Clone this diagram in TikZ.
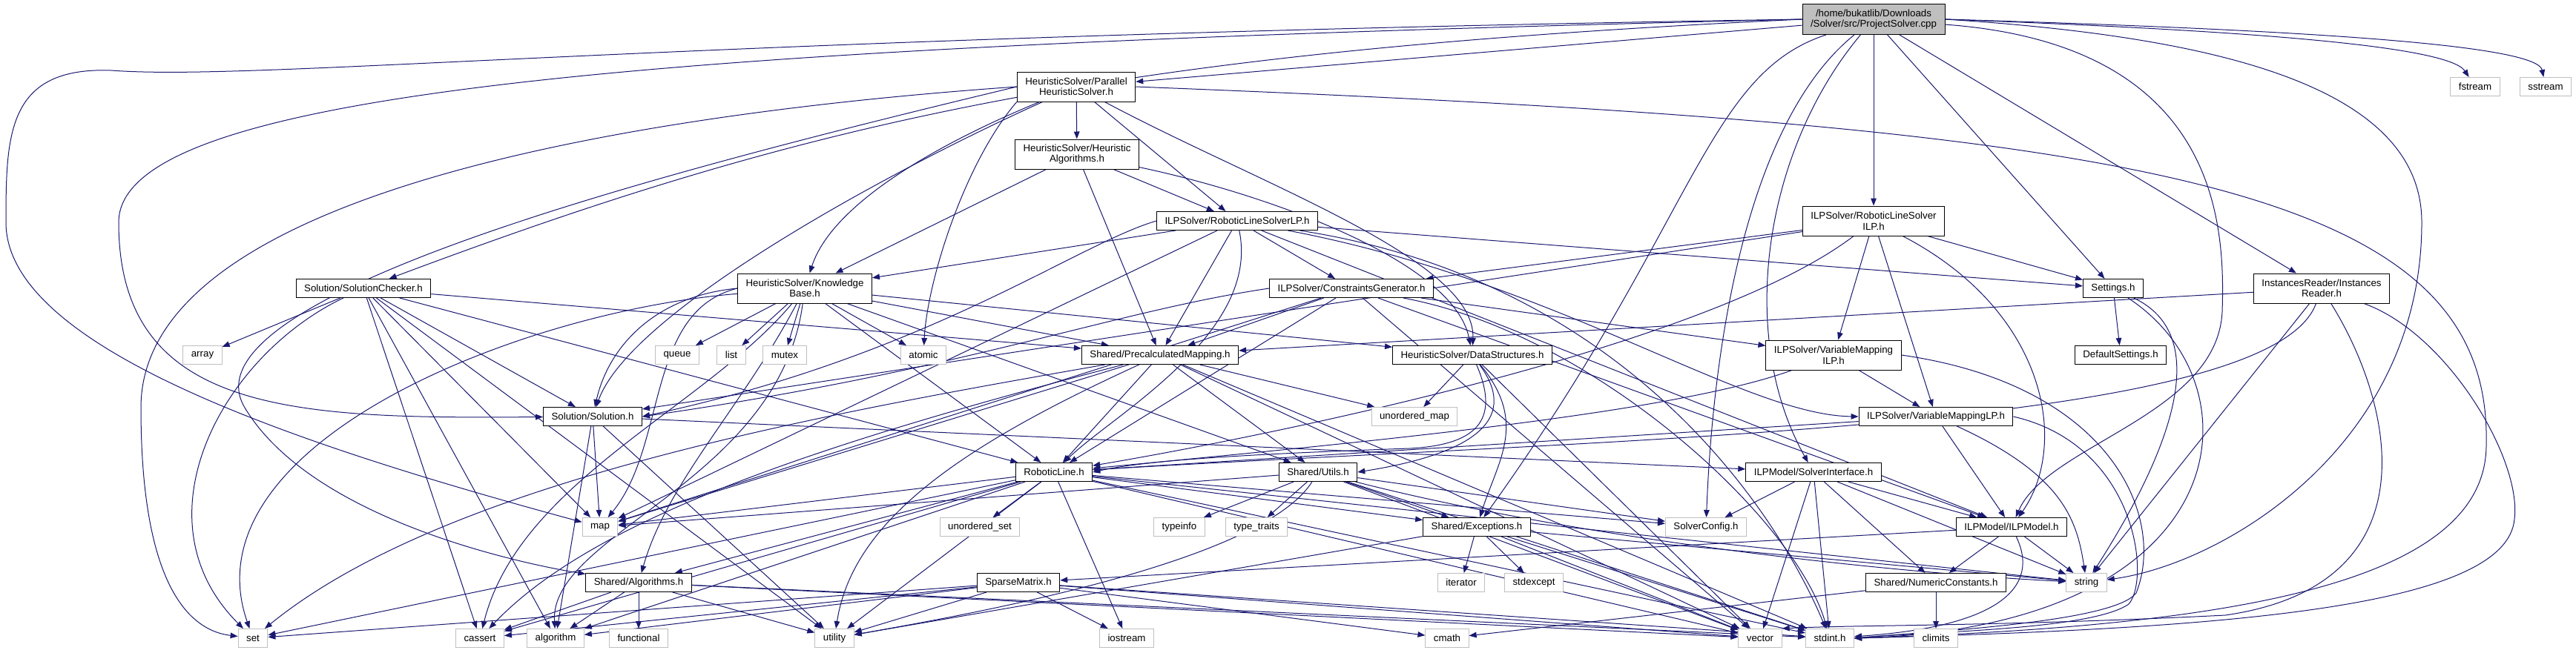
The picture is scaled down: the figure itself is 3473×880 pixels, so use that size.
\documentclass[tikz,border=0pt]{standalone}
\usepackage{fontspec}
\setmainfont{Liberation Sans}
\usepackage{tikz}
\usetikzlibrary{arrows.meta}
\definecolor{enlace}{HTML}{191970}
\definecolor{gristec}{HTML}{BFBFBF}
\pgfdeclarelayer{aristas}
\pgfsetlayers{aristas,main}

\begin{document}
\begin{tikzpicture}[x=0.5pt,y=-0.5pt,
  every node/.style={font=\fontsize{6.65}{7.2}\selectfont},
  hdr/.style={draw=black,fill=white,line width=0.5pt,inner xsep=5.5pt,inner ysep=0pt,
              minimum height=12.5pt,align=center},
  hdrdos/.style={hdr,minimum height=20pt},
  sys/.style={hdr,draw=gristec},
  fuente/.style={hdrdos,fill=gristec,minimum height=20.5pt},
  incl/.style={draw=enlace,line width=0.5pt,-{Triangle[length=5pt,width=3.8pt]}}
]
\useasboundingbox (0,0) rectangle (3473,880);
% fila 0-2
\node[fuente] (root) at (2526,26) {/home/bukatlib/Downloads\\/Solver/src/ProjectSolver.cpp};
\node[hdrdos] (phs) at (1451,117) {HeuristicSolver/Parallel\\HeuristicSolver.h};
\node[sys] (fstream) at (3337,117) {fstream};
\node[sys] (sstream) at (3432,117) {sstream};
\node[hdrdos] (ha) at (1452,208) {HeuristicSolver/Heuristic\\Algorithms.h};
\node[hdr] (rlslp) at (1668,298) {ILPSolver/RoboticLineSolverLP.h};
\node[hdrdos] (rlsilp) at (2526,298) {ILPSolver/RoboticLineSolver\\ILP.h};
% fila 3
\node[hdr] (sc) at (490,389) {Solution/SolutionChecker.h};
\node[hdrdos] (kb) at (1085,389) {HeuristicSolver/Knowledge\\Base.h};
\node[hdr] (cg) at (1822,389) {ILPSolver/ConstraintsGenerator.h};
\node[hdr] (settings) at (2849,389) {Settings.h};
\node[hdrdos] (ir) at (3130,389) {InstancesReader/Instances\\Reader.h};
% fila 4
\foreach \n/\x/\t in {array/273/array,queue/913/queue,list/986/list,mutex/1058/mutex,atomic/1245/atomic}
  \node[sys] (\n) at (\x,479) {\t};
\node[hdr] (pm) at (1564,479) {Shared/PrecalculatedMapping.h};
\node[hdr] (ds) at (1985,479) {HeuristicSolver/DataStructures.h};
\node[hdrdos] (vmilp) at (2472,479) {ILPSolver/VariableMapping\\ILP.h};
\node[hdr] (defset) at (2859,479) {DefaultSettings.h};
% fila 5-6
\node[hdr] (sol) at (799,562) {Solution/Solution.h};
\node[sys] (umap) at (1907,562) {unordered\_map};
\node[hdr] (vmlp) at (2610,562) {ILPSolver/VariableMappingLP.h};
\node[hdr] (rl) at (1421,637) {RoboticLine.h};
\node[hdr] (utils) at (1777,637) {Shared/Utils.h};
\node[hdr] (si) at (2445,637) {ILPModel/SolverInterface.h};
% fila 7
\node[sys] (map) at (809,711) {map};
\node[sys] (uset) at (1321,711) {unordered\_set};
\node[sys] (typeinfo) at (1590,711) {typeinfo};
\node[sys] (typetraits) at (1694,711) {type\_traits};
\node[hdr] (exc) at (1991,711) {Shared/Exceptions.h};
\node[sys] (cfg) at (2300,711) {SolverConfig.h};
\node[hdr] (ilpm) at (2712,711) {ILPModel/ILPModel.h};
% fila 8
\node[hdr] (alg) at (861,786) {Shared/Algorithms.h};
\node[hdr] (sm) at (1373,786) {SparseMatrix.h};
\node[sys] (iterator) at (1970,786) {iterator};
\node[sys] (stdexcept) at (2068,786) {stdexcept};
\node[hdr] (nc) at (2610,786) {Shared/NumericConstants.h};
\node[sys] (string) at (2813,786) {string};
% fila 9
\foreach \n/\x/\t in {set/341/set,cassert/647/cassert,algorithm/749/algorithm,functional/861/functional,
                      utility/1125/utility,iostream/1519/iostream,cmath/1951/cmath,vector/2373/vector,
                      stdint/2467/stdint.h,climits/2610/climits}
  \node[sys] (\n) at (\x,861) {\t};

\begin{pgfonlayer}{aristas}
\foreach \a/\b in {root/phs,root/rlsilp,root/settings,root/ir,
  phs/ha,phs/rlslp,
  ha/rlslp,ha/kb,ha/pm,
  rlslp/kb,rlslp/pm,rlslp/cg,rlslp/map,rlslp/settings,rlslp/ilpm,
  cg/pm,cg/rl,cg/map,cg/vmilp,cg/ilpm,cg/vector,
  rlsilp/cg,rlsilp/settings,rlsilp/vmilp,rlsilp/sol,rlsilp/vmlp,
  settings/defset,ir/pm,ir/string,
  sc/array,sc/sol,sc/map,sc/pm,sc/rl,sc/cassert,sc/algorithm,sc/utility,
  kb/queue,kb/list,kb/mutex,kb/atomic,kb/rl,kb/ds,kb/utils,kb/pm,
  pm/rl,pm/utils,pm/umap,pm/map,pm/stdint,pm/vector,
  ds/umap,ds/vector,
  vmilp/vmlp,vmlp/rl,vmlp/ilpm,
  sol/map,sol/si,sol/utility,sol/algorithm,
  rl/uset,rl/iostream,rl/vector,rl/stdint,rl/exc,rl/cfg,rl/string,rl/map,rl/set,rl/cassert,
  rl/algorithm,rl/utility,rl/alg,
  utils/typeinfo,utils/typetraits,utils/exc,utils/cfg,utils/vector,utils/stdint,utils/map,
  si/cfg,si/ilpm,si/nc,si/string,si/vector,si/stdint,
  exc/iterator,exc/stdexcept,exc/string,exc/vector,exc/stdint,exc/utility,
  ilpm/sm,ilpm/nc,ilpm/string,nc/climits,nc/cmath,
  alg/cassert,alg/algorithm,alg/functional,alg/utility,alg/vector,alg/stdint,
  sm/set,sm/cassert,sm/algorithm,sm/utility,sm/iostream,sm/cmath,sm/vector,sm/stdint}
  \draw[incl] (\a) -- (\b);
% rutas largas
\draw[incl] (root.west) .. controls (900,50) and (350,110) .. (150,95)
  .. controls (10,90) and (8,180) .. (8,300) .. controls (8,470) and (400,600) .. (map);
\draw[incl] (root.west) .. controls (900,62) and (160,120) .. (160,300)
  .. controls (160,560) and (400,565) .. (sol);
\draw[incl] (root.west) .. controls (1500,70) and (1100,160) .. (sc);
\draw[incl] (root) .. controls (2300,100) and (2286,300) .. (exc);
\draw[incl] (root) .. controls (2360,160) and (2310,450) .. (cfg);
\draw[incl] (root) .. controls (2380,200) and (2340,450) .. (si);
\draw[incl] (root) .. controls (2990,60) and (3000,300) .. (2996,420)
  .. controls (2990,560) and (2760,600) .. (ilpm);
\draw[incl] (root.east) .. controls (3000,50) and (3265,120) .. (3265,300)
  .. controls (3265,600) and (3000,760) .. (string);
\draw[incl] (root.east) .. controls (3000,40) and (3300,60) .. (fstream);
\draw[incl] (root.east) .. controls (3100,40) and (3420,60) .. (sstream);
\draw[incl] (phs) .. controls (1250,200) and (1120,280) .. (kb);
\draw[incl] (phs.south west) .. controls (1300,220) and (1250,380) .. (atomic);
\draw[incl] (phs) .. controls (1700,250) and (1990,350) .. (ds);
\draw[incl] (ha) .. controls (1700,260) and (1960,350) .. (ds);
\draw[incl] (phs) .. controls (1200,230) and (850,420) .. (sol);
\draw[incl] (phs.west) .. controls (900,150) and (190,250) .. (190,550)
  .. controls (190,780) and (250,850) .. (set);
\draw[incl] (phs.west) .. controls (900,230) and (240,400) .. (330,550)
  .. controls (420,700) and (700,760) .. (alg);
\draw[incl] (phs.east) .. controls (2900,170) and (3360,250) .. (3352,600)
  .. controls (3352,790) and (3000,845) .. (stdint.east);
\draw[incl] (rlslp) .. controls (1700,450) and (1500,560) .. (rl);
\draw[incl] (rlslp.west) .. controls (1450,330) and (1250,480) .. (sol.east);
\draw[incl] (rlslp) .. controls (2100,380) and (2350,560) .. (vmlp.west);
\draw[incl] (rlslp) .. controls (2200,380) and (2400,700) .. (stdint);
\draw[incl] (cg.west) .. controls (1500,420) and (1300,500) .. (sol.east);
\draw[incl] (cg) .. controls (2150,450) and (2420,700) .. (stdint);
\draw[incl] (rlsilp) .. controls (2300,470) and (1700,590) .. (rl);
\draw[incl] (rlsilp) .. controls (2760,420) and (2790,600) .. (ilpm);
\draw[incl] (ir) .. controls (3060,580) and (2200,590) .. (rl);
\draw[incl] (ir) .. controls (3300,450) and (3400,620) .. (3390,700)
  .. controls (3380,820) and (3000,848) .. (stdint.east);
\draw[incl] (ir) .. controls (3230,550) and (3280,790) .. (3000,830)
  .. controls (2700,845) and (2500,843) .. (vector.north east);
\draw[incl] (settings) .. controls (3000,460) and (2900,650) .. (string);
\draw[incl] (settings) .. controls (3050,520) and (3020,845) .. (stdint.east);
\draw[incl] (sc) .. controls (300,480) and (180,700) .. (set);
\draw[incl] (kb.west) .. controls (880,400) and (820,470) .. (sol);
\draw[incl] (kb.west) .. controls (870,420) and (900,600) .. (map);
\draw[incl] (kb) .. controls (1000,550) and (900,650) .. (alg);
\draw[incl] (kb) .. controls (700,420) and (250,600) .. (set);
\draw[incl] (kb) .. controls (950,550) and (700,650) .. (cassert);
\draw[incl] (kb) .. controls (1050,650) and (740,720) .. (algorithm);
\draw[incl] (pm) .. controls (1100,560) and (600,650) .. (set);
\draw[incl] (pm) .. controls (1100,600) and (800,700) .. (cassert);
\draw[incl] (pm) .. controls (1300,600) and (1150,700) .. (utility);
\draw[incl] (ds) .. controls (2020,560) and (2000,600) .. (1900,605)
  .. controls (1700,612) and (1550,620) .. (rl.east);
\draw[incl] (ds) .. controls (2045,560) and (2000,610) .. (utils.east);
\draw[incl] (ds) .. controls (2060,570) and (2020,620) .. (exc);
\draw[incl] (vmilp) .. controls (2250,560) and (1800,600) .. (rl);
\draw[incl] (vmilp.east) .. controls (2850,520) and (2920,700) .. (2880,800)
  .. controls (2850,840) and (2600,852) .. (stdint.east);
\draw[incl] (vmlp) .. controls (2780,640) and (2800,700) .. (string);
\draw[incl] (vmlp.east) .. controls (2880,600) and (2900,780) .. (2870,815)
  .. controls (2820,850) and (2600,852) .. (stdint.east);
\draw[incl] (utils) .. controls (1700,760) and (1300,830) .. (utility);
\draw[incl] (utils) .. controls (2100,720) and (2500,770) .. (string);
\draw[incl] (ilpm) .. controls (2750,790) and (2700,845) .. (stdint);
\end{pgfonlayer}
\end{tikzpicture}
\end{document}
